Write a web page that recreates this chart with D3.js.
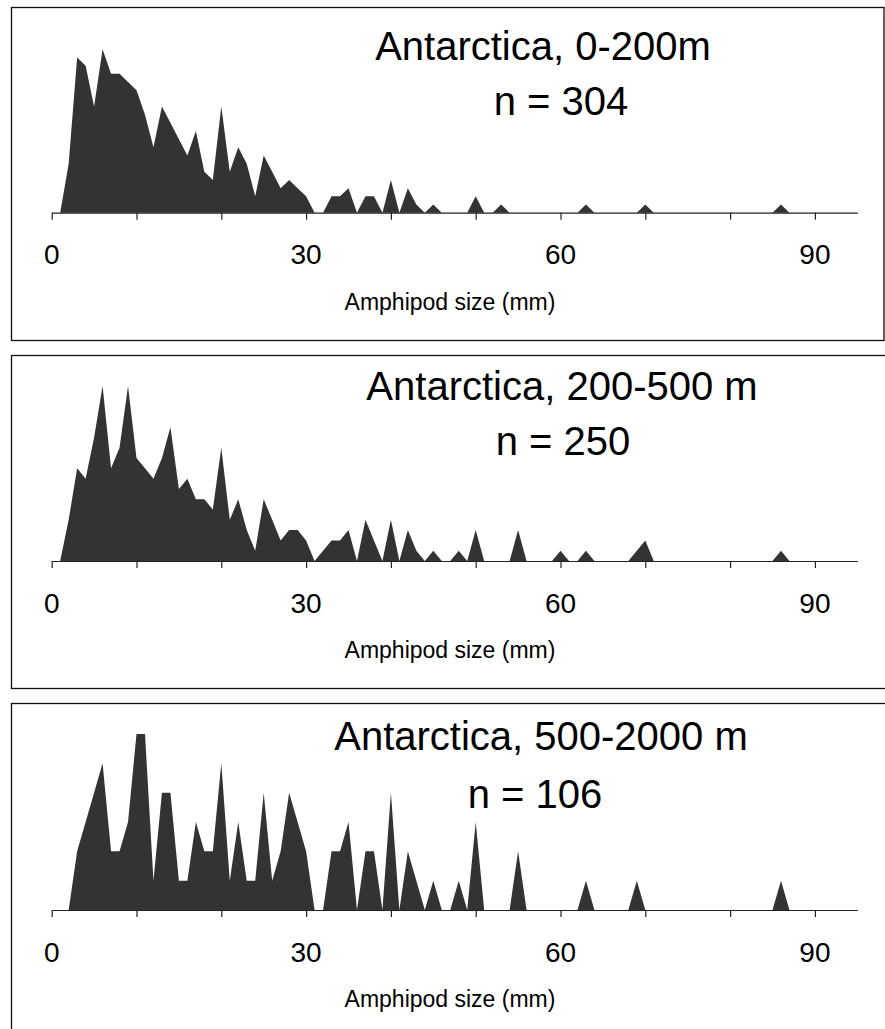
<!doctype html>
<html lang="en">
<head>
<meta charset="utf-8">
<title>Amphipod size distributions, Antarctica</title>
<script src="https://d3js.org/d3.v7.min.js"></script>
<style>
  body { margin: 0; background: #fff; }
  svg { display: block; }
  text { font-family: "Liberation Sans", Arial, sans-serif; fill: #000; }
</style>
</head>
<body>
<svg id="chart" width="885" height="1029"></svg>
<script>
// amphipod counts per 1 mm size class, sizes 1..87 mm
var counts0to200 = [
  0, 6, 19, 18, 13, 20, 17, 17, 16, 15,
  12, 8, 13, 11, 9, 7, 10, 5, 4, 13,
  5, 8, 6, 2, 7, 5, 3, 4, 3, 2,
  0, 0, 2, 2, 3, 0, 2, 2, 0, 4,
  0, 3, 1, 0, 1, 0, 0, 0, 0, 2,
  0, 0, 1, 0, 0, 0, 0, 0, 0, 0,
  0, 0, 1, 0, 0, 0, 0, 0, 0, 1,
  0, 0, 0, 0, 0, 0, 0, 0, 0, 0,
  0, 0, 0, 0, 0, 1, 0
];
var counts200to500 = [
  0, 4, 9, 8, 12, 17, 9, 11, 17, 10,
  9, 8, 10, 13, 7, 8, 6, 6, 5, 11,
  4, 6, 3, 1, 6, 4, 2, 3, 3, 2,
  0, 1, 2, 2, 3, 0, 4, 2, 0, 4,
  0, 3, 1, 0, 1, 0, 0, 1, 0, 3,
  0, 0, 0, 0, 3, 0, 0, 0, 0, 1,
  0, 0, 1, 0, 0, 0, 0, 0, 1, 2,
  0, 0, 0, 0, 0, 0, 0, 0, 0, 0,
  0, 0, 0, 0, 0, 1, 0
];
var counts500to2000 = [
  0, 0, 2, 3, 4, 5, 2, 2, 3, 6,
  6, 1, 4, 4, 1, 1, 3, 2, 2, 5,
  1, 3, 1, 1, 4, 1, 2, 4, 3, 2,
  0, 0, 2, 2, 3, 0, 2, 2, 0, 4,
  0, 2, 1, 0, 1, 0, 0, 1, 0, 3,
  0, 0, 0, 0, 2, 0, 0, 0, 0, 0,
  0, 0, 1, 0, 0, 0, 0, 0, 1, 0,
  0, 0, 0, 0, 0, 0, 0, 0, 0, 0,
  0, 0, 0, 0, 0, 1, 0
];
var titles = ["Antarctica, 0-200m", "Antarctica, 200-500 m", "Antarctica, 500-2000 m"];
var sampleSizes = [304, 250, 106];
var yMaxes = [20, 17, 6];
var tickValues = [0, 10, 20, 30, 40, 50, 60, 70, 80, 90];
var tickLabels = [0, 30, 60, 90];
var xLabel = "Amphipod size (mm)";

var series = [counts0to200, counts200to500, counts500to2000];

// layout of each framed panel
var panels = [
  {top: 7.5, bottom: 340.5, right: 884, base: 212.7, plotH: 163.4, titleX: 543, titleY: 60, nX: 561, nY: 115},
  {top: 355.5, bottom: 688.5, right: 892, base: 561, plotH: 175, titleX: 562, titleY: 400, nX: 563, nY: 455},
  {top: 703.5, bottom: 1040, right: 892, base: 910, plotH: 176, titleX: 541, titleY: 750, nX: 535, nY: 808}
];

var svg = d3.select("#chart");
var x = d3.scaleLinear().domain([0, 95]).range([51.7, 857.3]);

panels.forEach(function(p, i) {
  var g = svg.append("g");
  var y = d3.scaleLinear().domain([0, yMaxes[i]]).range([p.base, p.base - p.plotH]);

  g.append("rect")
    .attr("x", 11.5).attr("y", p.top)
    .attr("width", p.right - 11.5).attr("height", p.bottom - p.top)
    .attr("fill", "none").attr("stroke", "#111").attr("stroke-width", 1.3);

  var pts = series[i].map(function(c, k) { return {size: k + 1, count: c}; });
  var area = d3.area()
    .x(function(d) { return x(d.size); })
    .y0(y(0))
    .y1(function(d) { return y(d.count); });
  g.append("path").datum(pts)
    .attr("d", area)
    .attr("fill", "#333333");

  var axis = d3.axisBottom(x)
    .tickValues(tickValues)
    .tickSize(7)
    .tickSizeOuter(0)
    .tickFormat("");
  var ax = g.append("g").attr("transform", "translate(0," + p.base + ")").call(axis);
  ax.select(".domain").attr("stroke", "#222").attr("stroke-width", 1.2);
  ax.selectAll(".tick line").attr("stroke", "#222").attr("stroke-width", 1.2);

  g.selectAll(".tlab").data(tickLabels).enter().append("text")
    .attr("class", "tlab")
    .attr("x", function(d) { return x(d); })
    .attr("y", p.base + 51.5)
    .attr("text-anchor", "middle")
    .style("font-size", "28px")
    .text(function(d) { return d; });

  g.append("text")
    .attr("x", 450).attr("y", p.base + 97)
    .attr("text-anchor", "middle")
    .style("font-size", "23px")
    .text(xLabel);

  g.append("text")
    .attr("x", p.titleX).attr("y", p.titleY)
    .attr("text-anchor", "middle")
    .style("font-size", "40px")
    .text(titles[i]);

  g.append("text")
    .attr("x", p.nX).attr("y", p.nY)
    .attr("text-anchor", "middle")
    .style("font-size", "40px")
    .text("n = " + sampleSizes[i]);
});
</script>
</body>
</html>
